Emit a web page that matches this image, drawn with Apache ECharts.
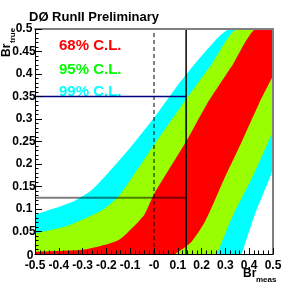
<!DOCTYPE html>
<html><head><meta charset="utf-8">
<script src="https://cdn.jsdelivr.net/npm/echarts@6/dist/echarts.min.js"></script>
<style>html,body{margin:0;padding:0;background:#fff}#c{width:299px;height:285px}</style>
</head><body><div id="c"></div>
<script>
// Tick labels
const xTickLabels = ['-0.5','-0.4','-0.3','-0.2','-0.1','-0','0.1','0.2','0.3','0.4','0.5'];
const yTickLabels = ['0','0.05','0.1','0.15','0.2','0.25','0.3','0.35','0.4','0.45','0.5'];

// Confidence belt boundaries (Br_meas -> Br_true)
const cyanLeftX  = [-0.5, -0.418, -0.334, -0.264, -0.215, -0.11, 0.002, 0.1, 0.2, 0.321, 0.5];
const cyanLeftY  = [0.087, 0.1015, 0.118, 0.141, 0.167, 0.23, 0.304, 0.375, 0.44, 0.5, 0.5];
const greenLeftX = [-0.5, -0.362, -0.222, -0.152, -0.096, 0.002, 0.12, 0.24, 0.352, 0.5];
const greenLeftY = [0.046, 0.063, 0.096, 0.126, 0.167, 0.244, 0.333, 0.42, 0.5, 0.5];
const redLeftX   = [-0.5, -0.292, -0.152, -0.082, -0.04, 0.002, 0.135, 0.222, 0.33, 0.43, 0.5];
const redLeftY   = [0.005, 0.01, 0.03, 0.063, 0.088, 0.135, 0.25, 0.333, 0.42, 0.5, 0.5];
const redRightX   = [0.09, 0.156, 0.212, 0.252, 0.295, 0.369, 0.44, 0.5];
const redRightY   = [0, 0.026, 0.07, 0.115, 0.167, 0.25, 0.333, 0.396];
const greenRightX = [0.265, 0.331, 0.41, 0.5];
const greenRightY = [0, 0.085, 0.167, 0.272];
const cyanRightX  = [0.369, 0.422, 0.485, 0.5];
const cyanRightY  = [0, 0.085, 0.167, 0.189];

// Measurement and derived limits
const measured = 0.135;
const limitLow = 0.125;
const limitHigh = 0.35;
const xMin = -0.5, xMax = 0.5, yMin = 0, yMax = 0.5;

const legendTexts = ['68% C.L.', '95% C.L.', '99% C.L.'];
const legendColors = ['#ff0000', '#00ff00', '#00ffff'];

const CYAN = '#00ffff', GREEN = '#99ff00', RED = '#ff0000';

function pts(xs, ys) { return xs.map((x, i) => [x, ys[i]]); }
function band(xs, ys, color) {
  return {
    type: 'line', data: pts(xs, ys), symbol: 'none', smooth: 0.2,
    lineStyle: { width: 0, opacity: 0 }, areaStyle: { color: color, opacity: 1 },
    silent: true, animation: false
  };
}
function seg(data, color, width, type) {
  return {
    type: 'line', data: data, symbol: 'none', silent: true, animation: false, z: 4,
    lineStyle: { color: color, width: width, type: type || 'solid' }
  };
}

const FONT = '"Liberation Sans", Arial, Helvetica, sans-serif';
const chart = echarts.init(document.getElementById('c'), null, { renderer: 'canvas' });
chart.setOption({
  animation: false,
  grid: { left: 35, right: 26, top: 29, bottom: 31, show: false },
  xAxis: [{
    type: 'value', min: xMin, max: xMax, interval: 0.1, z: 5,
    axisLine: { show: true, onZero: false, lineStyle: { color: '#000', width: 1 } },
    axisTick: { show: true, inside: true, length: 6, lineStyle: { color: '#000' } },
    minorTick: { show: true, splitNumber: 5, length: 3.5, lineStyle: { color: '#000' } },
    splitLine: { show: false },
    axisLabel: { margin: 6, color: '#000', fontFamily: FONT, fontWeight: 'bold', fontSize: 12,
      formatter: (v, i) => xTickLabels[i] }
  }, {
    type: 'value', position: 'top', min: xMin, max: xMax, z: 5,
    axisLine: { show: true, onZero: false, lineStyle: { color: '#808080', width: 2 } },
    axisTick: { show: false }, axisLabel: { show: false }, splitLine: { show: false }
  }],
  yAxis: [{
    type: 'value', min: yMin, max: yMax, interval: 0.05, z: 5,
    axisLine: { show: true, onZero: false, lineStyle: { color: '#000', width: 1 } },
    axisTick: { show: true, inside: true, length: 7, lineStyle: { color: '#000' } },
    minorTick: { show: true, splitNumber: 5, length: 3.5, lineStyle: { color: '#000' } },
    splitLine: { show: false },
    axisLabel: { margin: 11, align: 'center', color: '#000', fontFamily: FONT, fontWeight: 'bold', fontSize: 12,
      formatter: (v, i) => i === 0 ? '{z|' + yTickLabels[i] + '}' : yTickLabels[i],
      rich: { z: { padding: [3, 0, 0, 12], color: '#000', fontFamily: FONT, fontWeight: 'bold', fontSize: 12 } } }
  }, {
    type: 'value', position: 'right', min: yMin, max: yMax, z: 5,
    axisLine: { show: true, onZero: false, lineStyle: { color: '#808080', width: 2 } },
    axisTick: { show: false }, axisLabel: { show: false }, splitLine: { show: false }
  }],
  series: [
    band(cyanLeftX, cyanLeftY, CYAN),
    band(greenLeftX, greenLeftY, GREEN),
    band(redLeftX, redLeftY, RED),
    band(redRightX, redRightY, GREEN),
    band(greenRightX, greenRightY, CYAN),
    band(cyanRightX, cyanRightY, '#ffffff'),
    seg([[0, yMin], [0, yMax]], '#000', 1, [4, 3]),
    seg([[measured, yMin], [measured, yMax]], '#000', 1.5),
    seg([[xMin, limitHigh], [measured, limitHigh]], '#000080', 1.5),
    seg([[xMin, limitLow], [measured, limitLow]], 'rgba(0,0,0,0.5)', 2)
  ],
  graphic: [
    { type: 'text', x: 29, y: 17.5, style: { text: 'DØ RunII Preliminary', font: 'bold 13px ' + FONT, fill: '#000', align: 'left', verticalAlign: 'middle' } },
    { type: 'text', x: 59, y: 46, style: { text: legendTexts[0], font: 'bold 15px ' + FONT, fill: legendColors[0], align: 'left', verticalAlign: 'middle' } },
    { type: 'text', x: 59, y: 69.5, style: { text: legendTexts[1], font: 'bold 15px ' + FONT, fill: legendColors[1], align: 'left', verticalAlign: 'middle' } },
    { type: 'text', x: 59, y: 92, style: { text: legendTexts[2], font: 'bold 15px ' + FONT, fill: legendColors[2], align: 'left', verticalAlign: 'middle' } },
    { type: 'text', x: 7, y: 57, rotation: Math.PI / 2, style: { text: 'Br', font: 'bold 12px ' + FONT, fill: '#000', align: 'left', verticalAlign: 'middle' } },
    { type: 'text', x: 12.5, y: 43, rotation: Math.PI / 2, style: { text: 'true', font: 'bold 8px ' + FONT, fill: '#000', align: 'left', verticalAlign: 'middle' } },
    { type: 'text', x: 243, y: 274, style: { text: 'Br', font: 'bold 12px ' + FONT, fill: '#000', align: 'left', verticalAlign: 'middle' } },
    { type: 'text', x: 256, y: 279.5, style: { text: 'meas', font: 'bold 8px ' + FONT, fill: '#000', align: 'left', verticalAlign: 'middle' } }
  ]
});
</script>
</body></html>
